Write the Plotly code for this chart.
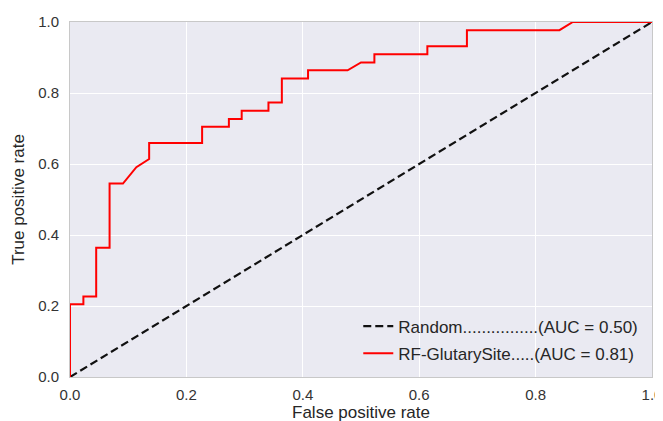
import plotly.graph_objects as go

# Random baseline
random_fpr = [0.0, 1.0]
random_tpr = [0.0, 1.0]

# RF-GlutarySite ROC curve
rf_fpr = [0.0, 0.0, 0.023, 0.023, 0.045, 0.045, 0.068, 0.068, 0.091, 0.114, 0.136, 0.136,
          0.227, 0.227, 0.273, 0.273, 0.295, 0.295, 0.341, 0.341, 0.364, 0.364, 0.409, 0.409,
          0.477, 0.5, 0.523, 0.523, 0.614, 0.614, 0.682, 0.682, 0.841, 0.864, 1.0]
rf_tpr = [0.0, 0.205, 0.205, 0.227, 0.227, 0.364, 0.364, 0.545, 0.545, 0.591, 0.614, 0.659,
          0.659, 0.705, 0.705, 0.727, 0.727, 0.75, 0.75, 0.773, 0.773, 0.841, 0.841, 0.864,
          0.864, 0.886, 0.886, 0.909, 0.909, 0.932, 0.932, 0.977, 0.977, 1.0, 1.0]

labels = ["Random................(AUC = 0.50)", "RF-GlutarySite.....(AUC = 0.81)"]
tick_vals = [0.0, 0.2, 0.4, 0.6, 0.8, 1.0]
tick_text = ["0.0", "0.2", "0.4", "0.6", "0.8", "1.0"]

fig = go.Figure()
fig.add_trace(go.Scatter(x=random_fpr, y=random_tpr, mode="lines", name=labels[0],
                         legendgroup="a",
                         line=dict(color="#111111", width=2.2, dash="8px,4px"),
                         cliponaxis=False))
fig.add_trace(go.Scatter(x=rf_fpr, y=rf_tpr, mode="lines", name=labels[1],
                         legendgroup="b",
                         line=dict(color="#ff0000", width=2), cliponaxis=False))

axis_common = dict(
    range=[0, 1], tickvals=tick_vals, ticktext=tick_text, automargin=False,
    ticklabeloverflow="allow",
    showgrid=True, gridcolor="white", gridwidth=1.2, zeroline=False,
    showline=True, linecolor="#c8c8c8", linewidth=1, mirror=True,
    ticks="", tickfont=dict(family="Liberation Sans, Arial", size=15, color="#333333"),
    title_font=dict(family="Liberation Sans, Arial", size=17, color="#262626"),
)

fig.update_layout(
    width=670, height=421,
    margin=dict(l=62, r=26, t=14, b=52, autoexpand=False),
    paper_bgcolor="white", plot_bgcolor="#EAEAF2",
    font=dict(family="Liberation Sans, Arial", color="#262626"),
    xaxis=dict(axis_common, ticklabelstandoff=4, title=dict(text="False positive rate", standoff=4)),
    yaxis=dict(axis_common, ticklabelstandoff=7, title=dict(text="True positive rate", standoff=9)),
    legend=dict(x=0.985, y=0.015, xanchor="right", yanchor="bottom",
                bgcolor="rgba(0,0,0,0)", font=dict(size=17, color="#262626"),
                tracegroupgap=2),
    showlegend=True,
)

fig.write_html("out.html",
               post_script="document.documentElement.style.overflow='hidden';"
                           "document.body.style.overflow='hidden';")
